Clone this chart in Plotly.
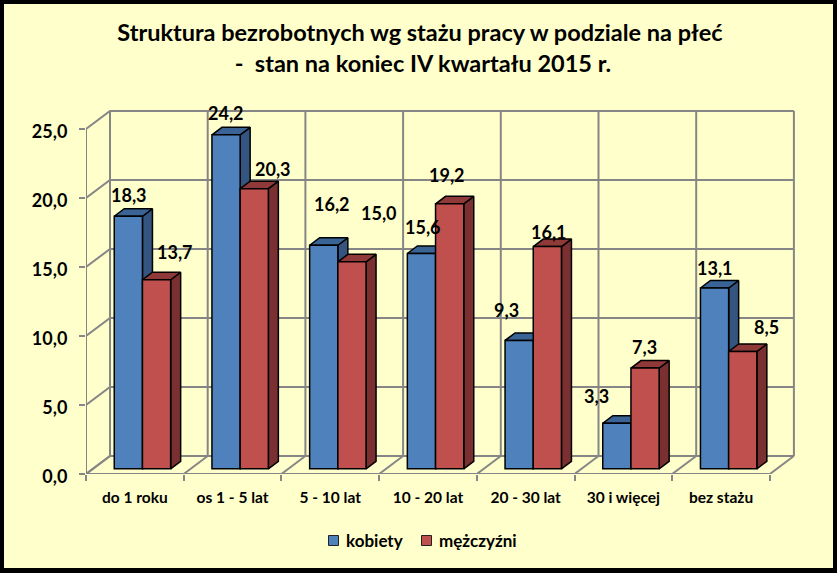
import plotly.graph_objects as go

# --- data ---
categories = ["do 1 roku", "os 1 - 5 lat", "5 - 10 lat", "10 - 20 lat", "20 - 30 lat", "30 i więcej", "bez stażu"]
kobiety = [18.3, 24.2, 16.2, 15.6, 9.3, 3.3, 13.1]
mezczyzni = [13.7, 20.3, 15.0, 19.2, 16.1, 7.3, 8.5]
y_ticks = [0, 5, 10, 15, 20, 25]

# label nudges relative to the bar's front-top-left corner (pixels)
nudge_k = [(15, 21), (14, 22), (22, 41), (16, 27), (1, 30), (-6, 27), (15, 20)]
nudge_m = [(33, 28), (33, 20), (41, 49), (11, 29), (16, 15), (14, 21), (38, 25)]

# --- geometry ---
W, H = 837, 573
L, R, T, B = 86, 795, 110, 474
CAT_PX = 97.7
UNIT_PX = 13.8
X_TOP = (R - L) / CAT_PX
Y_TOP = (B - T) / UNIT_PX
BACK_DX, BACK_DY = 24 / CAT_PX, 18 / UNIT_PX
BAR_W = 28.2 / CAT_PX
FACE_DX, FACE_DY = 10 / CAT_PX, 7.5 / UNIT_PX
BASE = 5.2 / UNIT_PX
SHIFT = 7.6 / CAT_PX
GRID = "#868686"
BG = "#FFFFCC"
FONT = "Lato"
n = len(categories)
centers = [i + 0.5 + SHIFT for i in range(n)]


def px_x(p):
    return (p - L) / (R - L)


def px_y(p):
    return (B - p) / (B - T)


fig = go.Figure()

# --- walls and floor ---
gx, gy = [], []
for v in y_ticks:  # left wall + back wall horizontals
    gx += [0, BACK_DX, 7 + BACK_DX, None]
    gy += [v, v + BACK_DY, v + BACK_DY, None]
for i in range(n + 1):  # back verticals and floor diagonals
    gx += [i + BACK_DX, i + BACK_DX, None, i, i + BACK_DX, None]
    gy += [BACK_DY, 25 + BACK_DY, None, 0, BACK_DY, None]
gx += [0, 0, None, 0, 7, None]  # front axes
gy += [0, 25, None, 0, 0, None]
fig.add_trace(go.Scatter(x=gx, y=gy, mode="lines", line=dict(color=GRID, width=2),
                         showlegend=False, hoverinfo="skip", connectgaps=False))


def faces(vals, left_off, side_col, top_col):
    sx, sy, tx, ty = [], [], [], []
    for c, v in zip(centers, vals):
        xl = c + left_off
        xr = xl + BAR_W
        sx += [xr, xr + FACE_DX, xr + FACE_DX, xr, xr, None]
        sy += [BASE, BASE + FACE_DY, BASE + v + FACE_DY, BASE + v, BASE, None]
        tx += [xl, xl + FACE_DX, xr + FACE_DX, xr, xl, None]
        ty += [BASE + v, BASE + v + FACE_DY, BASE + v + FACE_DY, BASE + v, BASE + v, None]
    for px, py, col in ((sx, sy, side_col), (tx, ty, top_col)):
        fig.add_trace(go.Scatter(x=px, y=py, mode="lines", fill="toself", fillcolor=col,
                                 line=dict(color="black", width=1.5),
                                 showlegend=False, hoverinfo="skip"))


faces(kobiety, -BAR_W, "#34557F", "#3A6496")
faces(mezczyzni, 0, "#7A3030", "#8F3A38")

# --- front faces ---
fig.add_trace(go.Bar(x=centers, y=kobiety, base=BASE, width=BAR_W, offset=-BAR_W, name="kobiety",
                     marker=dict(color="#4F81BD", line=dict(color="black", width=1.5)),
                     xaxis="x2", yaxis="y2", showlegend=False))
fig.add_trace(go.Bar(x=centers, y=mezczyzni, base=BASE, width=BAR_W, offset=0, name="mężczyźni",
                     marker=dict(color="#C0504D", line=dict(color="black", width=1.5)),
                     xaxis="x2", yaxis="y2", showlegend=False))

# --- data labels ---
ann = []
for vals, nudges, off in ((kobiety, nudge_k, -BAR_W), (mezczyzni, nudge_m, 0)):
    for c, v, (nx, ny) in zip(centers, vals, nudges):
        ann.append(dict(x=c + off, y=BASE + v, xref="x2", yref="y2",
                        text=f"<b>{v:.1f}</b>".replace(".", ","), showarrow=False,
                        xshift=nx, yshift=ny, font=dict(family=FONT, size=18, color="black")))

# --- legend (swatch + label) ---
shapes = []
for name, color, x0, x_text in (("kobiety", "#4F81BD", 328.5, 343.5), ("mężczyźni", "#C0504D", 421.5, 436.5)):
    shapes.append(dict(type="rect", xref="paper", yref="paper",
                       x0=px_x(x0), x1=px_x(x0 + 10), y0=px_y(545.5), y1=px_y(535.5),
                       fillcolor=color, line=dict(color="#222222", width=1)))
    ann.append(dict(x=px_x(x_text), y=px_y(540), xref="paper", yref="paper", xanchor="left", yanchor="middle",
                    text=f"<b>{name}</b>", showarrow=False, font=dict(family=FONT, size=17, color="black")))

# --- outer black frame ---
for x0, x1, y0, y1 in ((0, W, 0, 4), (0, W, 568, H), (0, 4, 0, H), (833, W, 0, H)):
    shapes.append(dict(type="rect", xref="paper", yref="paper", layer="below",
                       x0=px_x(x0), x1=px_x(x1), y0=px_y(y1), y1=px_y(y0),
                       fillcolor="black", line=dict(width=0)))

axis_range_x = [0, X_TOP]
axis_range_y = [0, Y_TOP]
fig.update_layout(
    width=W, height=H, autosize=False,
    margin=dict(l=L, r=W - R, t=T, b=H - B, pad=0),
    paper_bgcolor=BG, plot_bgcolor=BG,
    separators=", ",
    font=dict(family=FONT, color="black"),
    barmode="overlay",
    showlegend=False,
    title=dict(
        text="<b>Struktura bezrobotnych wg stażu pracy w podziale na płeć<br>\u00a0-\u00a0\u00a0stan na koniec IV kwartału 2015 r.</b>",
        x=420 / W, xanchor="center", xref="container", y=1 - 41 / H, yanchor="top",
        font=dict(family=FONT, size=23.5, color="black")),
    xaxis=dict(range=axis_range_x, tickmode="array", tickvals=[i + 0.5 for i in range(n)],
               ticktext=[f"<b>{c}</b>" for c in categories],
               ticks="", showgrid=False, zeroline=False, showline=False,
               ticklabelstandoff=12, tickfont=dict(family=FONT, size=15.5, color="black"),
               minor=dict(tickmode="array", tickvals=list(range(n + 1)), ticks="outside",
                          ticklen=6, tickwidth=2, tickcolor=GRID, showgrid=False)),
    yaxis=dict(range=axis_range_y, tickmode="array", tickvals=y_ticks,
               ticktext=[f"<b>{v:.1f}</b>".replace(".", ",") for v in y_ticks],
               ticks="outside", ticklen=6, tickwidth=2, tickcolor=GRID, showgrid=False,
               ticklabelstandoff=8, ticklabelshift=3,
               zeroline=False, showline=False, tickfont=dict(family=FONT, size=18, color="black")),
    xaxis2=dict(range=axis_range_x, overlaying="x", visible=False),
    yaxis2=dict(range=axis_range_y, overlaying="y", visible=False),
    annotations=ann,
    shapes=shapes,
)

fig.write_html("out.html", config={"displayModeBar": False},
               post_script="document.body.style.margin='0';")
